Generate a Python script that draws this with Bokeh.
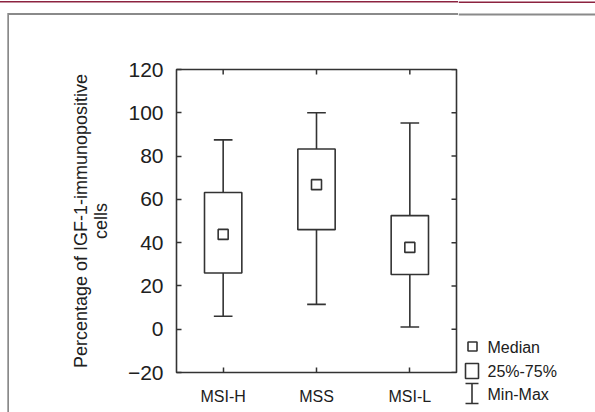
import math
from bokeh.plotting import figure
from bokeh.layouts import row
from bokeh.models import Range1d, FixedTicker, ColumnDataSource
from bokeh.core.properties import value
from bokeh.embed import file_html
from bokeh.resources import INLINE

# ---- data ----
categories = ["MSI-H", "MSS", "MSI-L"]
minimum = [6, 11.5, 1]
q1 = [26, 46, 25.3]
median = [43.8, 66.8, 37.8]
q3 = [63.2, 83.3, 52.5]
maximum = [87.5, 100, 95.3]
yticks = [-20, 0, 20, 40, 60, 80, 100, 120]
ylabel = "Percentage of IGF-1-immunopositive\ncells"
legend_labels = ["Median", "25%-75%", "Min-Max"]

xpos = [i + 1 for i in range(len(categories))]
x_lo, x_hi = 0.5, len(categories) + 0.5
y_lo, y_hi = yticks[0], yticks[-1]
box_w = 0.4
cap_w = 0.2

src = ColumnDataSource(dict(
    x=xpos, lo=minimum, q1=q1, med=median, q3=q3, hi=maximum,
    cl=[x - cap_w / 2 for x in xpos], cr=[x + cap_w / 2 for x in xpos],
))

FONT = "Liberation Sans"
INK = "#202020"
LINE = "#333333"
LW = 1.6
RED = "#8c2340"
GREY = "#8a8a8a"
H = 412

p = figure(width=458, height=H, output_backend="svg", toolbar_location=None,
           x_range=Range1d(x_lo, x_hi), y_range=Range1d(y_lo, y_hi),
           min_border_left=176, min_border_right=2, min_border_top=69,
           min_border_bottom=40)
p.frame_align = False
p.grid.visible = False
p.outline_line_color = LINE
p.outline_line_width = LW
p.background_fill_color = "white"
p.border_fill_color = None
# page decoration: dark red rule at the very top and the grey panel border
p.styles = {"box-shadow": (f"inset 0 1px 0 0 white, inset 0 2.4px 0 0 {RED}, "
                           f"inset 0 13px 0 0 white, inset 7.3px 0 0 0 white, "
                           f"inset 9px 15px 0 0 {GREY}")}

# whiskers
p.segment(x0="x", y0="q3", x1="x", y1="hi", source=src, line_color=LINE, line_width=LW)
p.segment(x0="x", y0="lo", x1="x", y1="q1", source=src, line_color=LINE, line_width=LW)
p.segment(x0="cl", y0="hi", x1="cr", y1="hi", source=src, line_color=LINE, line_width=LW)
p.segment(x0="cl", y0="lo", x1="cr", y1="lo", source=src, line_color=LINE, line_width=LW)
# boxes
p.vbar(x="x", width=box_w, bottom="q1", top="q3", source=src,
       fill_color="white", line_color=LINE, line_width=LW)
# medians
p.scatter(x="x", y="med", source=src, marker="square", size=10,
          fill_color="white", line_color=LINE, line_width=LW)

# inward ticks on the top and right edges of the frame (half of each dash is clipped)
p.scatter(x=xpos, y=[y_hi] * len(xpos), marker="dash", size=10, angle=math.pi / 2,
          line_color=LINE, line_width=1.5)
p.scatter(x=[x_hi] * len(yticks), y=yticks, marker="dash", size=10,
          line_color=LINE, line_width=1.5)

# axes
xa = p.xaxis[0]
xa.ticker = FixedTicker(ticks=xpos)
xa.major_label_overrides = {x: c for x, c in zip(xpos, categories)}
ya = p.yaxis[0]
ya.ticker = FixedTicker(ticks=yticks)
ya.axis_label = ylabel

for ax in (xa, ya):
    ax.axis_line_color = None
    ax.major_tick_in = 5
    ax.major_tick_out = 0
    ax.major_tick_line_color = LINE
    ax.major_tick_line_width = 1.5
    ax.minor_tick_line_color = None
    ax.major_label_text_font = FONT
    ax.major_label_text_color = INK

xa.major_label_text_font_size = "16px"
xa.major_label_standoff = 15
ya.major_label_text_font_size = "21px"
ya.major_label_standoff = 13
ya.axis_label_text_font = FONT
ya.axis_label_text_font_size = "18px"
ya.axis_label_text_font_style = "normal"
ya.axis_label_text_color = INK
ya.axis_label_text_line_height = 1.0
ya.axis_label_standoff = 14

# ---- legend panel (pixel space of its own, y downwards) ----
LWID = 595 - 458
lg = figure(width=LWID, height=H, output_backend="svg", toolbar_location=None,
            x_range=Range1d(0, LWID), y_range=Range1d(H, 0),
            x_axis_type=None, y_axis_type=None, min_border=0)
lg.frame_align = False
lg.grid.visible = False
lg.outline_line_color = None
lg.background_fill_color = "white"
lg.border_fill_color = "white"

# page decoration continued
lg.quad(left=[0], right=[LWID], top=[1], bottom=[2.4], fill_color=RED, line_color=None)
lg.quad(left=[0], right=[LWID], top=[13], bottom=[15], fill_color=GREY, line_color=None)

# median icon
lg.scatter(x=[14], y=[346], marker="square", size=9, fill_color="white",
           line_color=LINE, line_width=LW)
# box icon
lg.quad(left=[7], right=[20], top=[363], bottom=[378], fill_color="white",
        line_color=LINE, line_width=LW)
# min-max icon
lg.segment(x0=[13.5, 7, 7], y0=[383, 383, 403], x1=[13.5, 20, 20], y1=[403, 383, 403],
           line_color=LINE, line_width=LW)
lg.text(x=[29] * 3, y=[347, 371, 394], text=legend_labels,
        text_font=value(FONT), text_font_size="16px", text_color=INK,
        text_baseline="middle", text_align="left")

layout = row(p, lg)

open("out.html", "w").write(file_html(layout, INLINE))
